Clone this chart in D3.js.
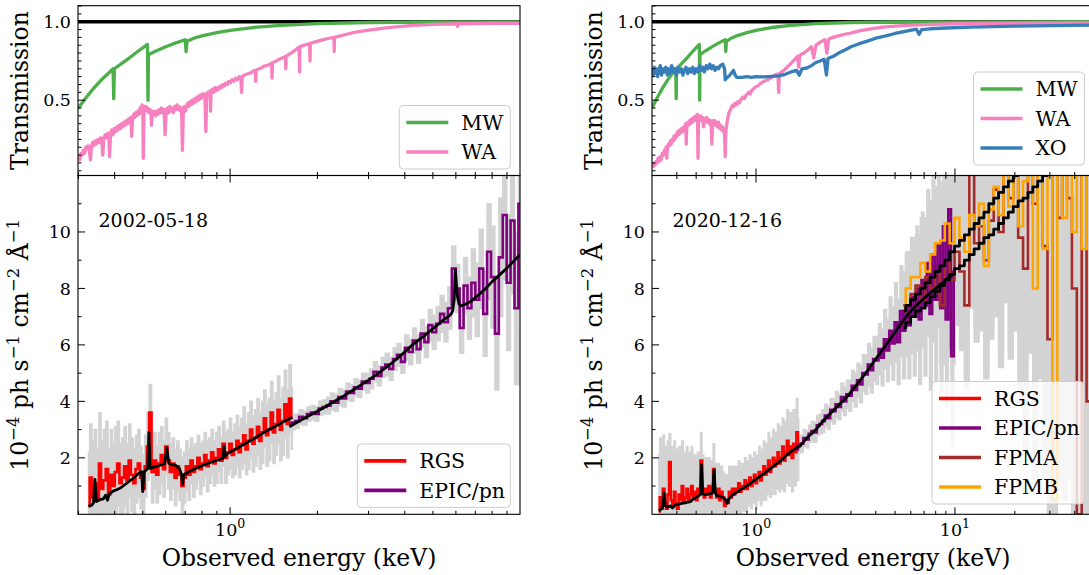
<!DOCTYPE html>
<html><head><meta charset="utf-8">
<script src="https://cdn.jsdelivr.net/npm/d3@7"></script>
<style>
body{margin:0;background:#fff;}
svg{display:block;font-family:'DejaVu Serif',serif;}
</style></head><body>
<script>
// ---------- transmission curves [energy keV, transmission] ----------
const unity = [[0.1, 1.0], [100, 1.0]];
const mw = [[0.300,0.45],[0.320,0.52],[0.340,0.58],[0.360,0.63],[0.380,0.67],[0.395,0.70],[0.397,0.51],[0.399,0.70],[0.420,0.73],[0.450,0.77],[0.480,0.81],[0.505,0.84],[0.519,0.855],[0.521,0.50],[0.523,0.79],[0.550,0.81],[0.600,0.84],[0.650,0.865],[0.700,0.885],[0.705,0.81],[0.710,0.875],[0.750,0.895],[0.800,0.91],[0.900,0.93],[1.00,0.945],[1.20,0.963],[1.50,0.977],[2.00,0.988],[3.00,0.995],[5.00,0.998],[10.0,0.999],[50.0,1.0]];
const waLeft = [[0.300,0.14],[0.303,0.12],[0.306,0.16],[0.309,0.15],[0.312,0.18],[0.315,0.16],[0.318,0.20],[0.321,0.19],[0.324,0.21],[0.327,0.18],[0.330,0.12],[0.333,0.21],[0.336,0.23],[0.339,0.21],[0.342,0.24],[0.346,0.22],[0.350,0.25],[0.354,0.23],[0.358,0.26],[0.361,0.24],[0.364,0.15],[0.367,0.26],[0.371,0.28],[0.375,0.26],[0.379,0.29],[0.382,0.27],[0.384,0.14],[0.387,0.29],[0.391,0.31],[0.395,0.28],[0.399,0.32],[0.403,0.30],[0.407,0.33],[0.411,0.31],[0.415,0.34],[0.419,0.32],[0.423,0.35],[0.427,0.33],[0.431,0.36],[0.435,0.34],[0.439,0.37],[0.443,0.35],[0.447,0.38],[0.451,0.36],[0.455,0.39],[0.458,0.27],[0.461,0.38],[0.465,0.41],[0.469,0.39],[0.473,0.42],[0.477,0.40],[0.481,0.43],[0.485,0.41],[0.489,0.45],[0.493,0.42],[0.497,0.47],[0.500,0.45],[0.502,0.13],[0.505,0.46],[0.509,0.44],[0.513,0.46],[0.517,0.43],[0.521,0.45],[0.525,0.42],[0.530,0.44],[0.534,0.41],[0.536,0.34],[0.539,0.43],[0.544,0.41],[0.549,0.43],[0.554,0.40],[0.559,0.43],[0.564,0.41],[0.569,0.44],[0.574,0.42],[0.580,0.45],[0.586,0.42],[0.592,0.44],[0.597,0.28],[0.602,0.43],[0.608,0.45],[0.614,0.42],[0.620,0.46],[0.626,0.43],[0.632,0.45],[0.638,0.42],[0.644,0.46],[0.650,0.44],[0.656,0.47],[0.662,0.44],[0.668,0.46],[0.674,0.43],[0.680,0.45],[0.685,0.18],[0.690,0.44],[0.696,0.46],[0.702,0.43],[0.708,0.46],[0.714,0.48],[0.720,0.46],[0.727,0.49],[0.734,0.47],[0.741,0.50],[0.748,0.48],[0.755,0.51],[0.762,0.49],[0.770,0.52],[0.778,0.50],[0.786,0.53],[0.794,0.51],[0.802,0.54],[0.810,0.52],[0.818,0.54],[0.825,0.30],[0.830,0.53],[0.838,0.55],[0.846,0.53],[0.853,0.56],[0.856,0.43],[0.860,0.55],[0.869,0.57],[0.878,0.55],[0.887,0.58],[0.896,0.56],[0.905,0.58],[0.915,0.57],[0.925,0.59],[0.935,0.58],[0.945,0.60],[0.955,0.59],[0.966,0.61],[0.977,0.60],[0.988,0.62],[1.00,0.61],[1.015,0.63],[1.03,0.62],[1.045,0.64],[1.06,0.63],[1.075,0.65],[1.09,0.64],[1.095,0.55],[1.10,0.65],[1.12,0.66],[1.14,0.665],[1.16,0.67],[1.18,0.675],[1.20,0.685],[1.22,0.69],[1.225,0.62],[1.23,0.69],[1.255,0.70],[1.28,0.705],[1.305,0.715],[1.33,0.72],[1.36,0.725],[1.39,0.735],[1.395,0.64],[1.40,0.74],[1.425,0.745],[1.45,0.752],[1.475,0.76],[1.50,0.766],[1.525,0.772],[1.55,0.778],[1.555,0.70],[1.56,0.782],[1.59,0.79],[1.62,0.80],[1.65,0.81],[1.68,0.82],[1.705,0.83],[1.73,0.838],[1.735,0.68],[1.74,0.84],[1.77,0.846],[1.80,0.85],[1.84,0.855],[1.88,0.86],[1.885,0.75],[1.89,0.862],[1.95,0.87],[2.02,0.878],[2.10,0.886],[2.18,0.893],[2.28,0.90],[2.285,0.81],[2.29,0.90],[2.40,0.91],[2.52,0.92],[2.68,0.932],[2.85,0.94],[3.05,0.948],[3.25,0.954],[3.50,0.962],[3.80,0.968],[4.27,0.976],[4.80,0.981],[5.40,0.985],[6.05,0.987],[6.08,0.97],[6.11,0.987],[7.0,0.988],[8.0,0.989],[9.0,0.99],[10.0,0.99]];
const waRight = [[0.300,0.07],[0.303,0.09],[0.306,0.08],[0.309,0.10],[0.312,0.09],[0.315,0.11],[0.318,0.10],[0.322,0.13],[0.326,0.11],[0.330,0.14],[0.334,0.12],[0.338,0.16],[0.342,0.15],[0.346,0.18],[0.350,0.17],[0.353,0.20],[0.356,0.13],[0.359,0.20],[0.363,0.22],[0.367,0.21],[0.371,0.24],[0.375,0.22],[0.379,0.25],[0.383,0.24],[0.387,0.27],[0.391,0.25],[0.395,0.28],[0.399,0.27],[0.403,0.30],[0.408,0.28],[0.413,0.31],[0.418,0.29],[0.423,0.32],[0.428,0.30],[0.433,0.33],[0.438,0.31],[0.443,0.35],[0.446,0.22],[0.449,0.34],[0.454,0.36],[0.459,0.34],[0.464,0.37],[0.469,0.35],[0.474,0.38],[0.480,0.36],[0.486,0.39],[0.492,0.37],[0.498,0.40],[0.504,0.38],[0.508,0.41],[0.511,0.13],[0.514,0.40],[0.520,0.38],[0.526,0.40],[0.532,0.37],[0.538,0.39],[0.545,0.33],[0.551,0.38],[0.557,0.36],[0.563,0.39],[0.569,0.36],[0.575,0.38],[0.582,0.35],[0.589,0.37],[0.595,0.34],[0.600,0.22],[0.605,0.37],[0.612,0.35],[0.619,0.37],[0.626,0.34],[0.633,0.36],[0.640,0.33],[0.648,0.36],[0.656,0.32],[0.664,0.34],[0.672,0.31],[0.680,0.33],[0.688,0.30],[0.695,0.28],[0.700,0.14],[0.705,0.30],[0.712,0.34],[0.720,0.38],[0.728,0.41],[0.736,0.43],[0.745,0.44],[0.755,0.46],[0.765,0.47],[0.775,0.46],[0.785,0.48],[0.797,0.47],[0.810,0.49],[0.822,0.48],[0.835,0.50],[0.848,0.51],[0.860,0.52],[0.875,0.51],[0.890,0.53],[0.905,0.54],[0.920,0.55],[0.935,0.54],[0.950,0.56],[0.968,0.57],[0.985,0.58],[1.00,0.585],[1.02,0.59],[1.04,0.60],[1.06,0.61],[1.08,0.615],[1.10,0.62],[1.125,0.625],[1.15,0.63],[1.175,0.64],[1.20,0.645],[1.225,0.655],[1.25,0.66],[1.27,0.665],[1.29,0.66],[1.30,0.55],[1.31,0.67],[1.345,0.68],[1.38,0.69],[1.42,0.705],[1.46,0.72],[1.50,0.735],[1.54,0.75],[1.58,0.765],[1.62,0.78],[1.64,0.71],[1.66,0.785],[1.70,0.795],[1.74,0.80],[1.78,0.81],[1.82,0.82],[1.86,0.83],[1.90,0.84],[1.95,0.77],[2.00,0.85],[2.05,0.86],[2.10,0.87],[2.16,0.878],[2.22,0.885],[2.27,0.80],[2.32,0.89],[2.40,0.897],[2.50,0.905],[2.65,0.913],[2.80,0.92],[3.00,0.928],[3.15,0.935],[3.35,0.943],[3.60,0.95],[3.90,0.957],[4.20,0.963],[4.60,0.968],[5.00,0.972],[6.00,0.978],[7.00,0.982],[10.0,0.987],[20.0,0.99],[50.0,0.992]];
const xo = [[0.300,0.69],[0.304,0.66],[0.308,0.71],[0.312,0.67],[0.316,0.70],[0.320,0.65],[0.325,0.69],[0.330,0.72],[0.335,0.66],[0.340,0.70],[0.346,0.68],[0.352,0.71],[0.358,0.66],[0.364,0.70],[0.370,0.67],[0.377,0.72],[0.384,0.68],[0.391,0.70],[0.398,0.66],[0.405,0.71],[0.413,0.68],[0.421,0.70],[0.429,0.66],[0.437,0.69],[0.445,0.71],[0.454,0.67],[0.463,0.70],[0.472,0.68],[0.481,0.71],[0.490,0.67],[0.500,0.70],[0.510,0.68],[0.520,0.72],[0.530,0.69],[0.540,0.71],[0.550,0.68],[0.562,0.72],[0.574,0.70],[0.586,0.73],[0.598,0.70],[0.610,0.72],[0.622,0.69],[0.635,0.71],[0.648,0.70],[0.660,0.72],[0.680,0.73],[0.695,0.70],[0.700,0.63],[0.710,0.64],[0.740,0.66],[0.770,0.69],[0.785,0.66],[0.800,0.645],[0.850,0.645],[0.900,0.65],[0.950,0.645],[1.00,0.65],[1.10,0.648],[1.20,0.652],[1.30,0.655],[1.40,0.665],[1.50,0.68],[1.60,0.69],[1.65,0.66],[1.70,0.70],[1.80,0.705],[1.90,0.72],[2.00,0.74],[2.10,0.75],[2.20,0.76],[2.26,0.66],[2.30,0.765],[2.45,0.78],[2.60,0.80],[2.80,0.82],[3.00,0.84],[3.30,0.86],[3.60,0.875],[4.00,0.895],[4.50,0.91],[5.00,0.925],[5.70,0.94],[6.40,0.952],[6.60,0.92],[6.80,0.95],[7.50,0.955],[9.00,0.96],[12.0,0.965],[20.0,0.972],[50.0,0.978]];

// ---------- binned spectra [energy keV, flux, 1-sigma error] (1e-4 ph/s/cm2/A) ----------
const rgs2002 = [[0.325,0.3,1.9],[0.331,1.3,1.9],[0.337,0.6,2.0],[0.343,1.1,1.9],[0.350,0.5,1.8],[0.356,1.8,1.8],[0.362,0.9,1.7],[0.369,1.2,1.8],[0.376,1.6,1.7],[0.383,0.7,1.6],[0.390,1.4,1.6],[0.397,1.0,1.5],[0.404,1.5,1.6],[0.412,1.8,1.5],[0.419,1.1,1.4],[0.427,1.3,1.4],[0.435,1.7,1.4],[0.443,1.2,1.3],[0.451,1.9,1.3],[0.459,1.4,1.3],[0.468,1.1,1.2],[0.476,1.6,1.2],[0.485,1.8,1.2],[0.494,1.3,1.1],[0.503,0.9,1.2],[0.512,1.7,1.1],[0.521,2.4,1.2],[0.531,3.6,1.0],[0.541,1.5,1.1],[0.551,1.9,1.0],[0.561,1.4,1.0],[0.571,1.8,1.1],[0.582,2.1,1.0],[0.592,1.6,1.0],[0.603,2.4,1.0],[0.614,1.9,1.0],[0.625,1.5,1.0],[0.637,1.8,0.9],[0.649,1.3,1.0],[0.660,1.7,0.9],[0.673,1.4,0.9],[0.685,1.0,1.0],[0.697,1.3,0.9],[0.710,1.7,0.9],[0.723,1.4,0.9],[0.737,1.9,0.8],[0.750,1.5,0.9],[0.764,1.7,0.8],[0.778,2.0,0.8],[0.792,1.6,0.9],[0.807,1.8,0.8],[0.821,2.1,0.8],[0.837,1.7,0.9],[0.852,1.9,0.8],[0.868,2.2,0.8],[0.883,1.8,0.8],[0.900,2.0,0.9],[0.916,2.3,0.8],[0.933,1.9,0.8],[0.950,2.5,0.8],[0.968,2.0,0.9],[0.985,2.2,0.8],[1.003,2.5,0.9],[1.022,2.1,0.8],[1.041,2.3,0.9],[1.060,2.6,0.9],[1.079,2.2,0.9],[1.099,2.5,0.9],[1.119,2.8,1.0],[1.140,2.3,0.9],[1.160,2.6,1.0],[1.182,3.0,1.0],[1.203,2.5,1.0],[1.226,2.7,1.0],[1.248,3.1,1.0],[1.271,2.6,1.0],[1.294,2.9,1.1],[1.318,3.4,1.0],[1.342,2.8,1.1],[1.367,3.0,1.1],[1.392,3.6,1.1],[1.417,2.9,1.1],[1.443,3.2,1.1],[1.470,3.7,1.2],[1.497,3.0,1.1],[1.524,3.3,1.2],[1.552,3.9,1.2],[1.581,3.2,1.2],[1.610,4.1,1.2],[1.639,3.4,1.1]];
const pn2002 = [[1.600,3.15,0.25],[1.650,3.25,0.25],[1.703,3.30,0.25],[1.756,3.45,0.25],[1.812,3.40,0.25],[1.869,3.55,0.25],[1.928,3.60,0.25],[1.989,3.55,0.25],[2.052,3.75,0.25],[2.116,3.80,0.25],[2.183,3.85,0.3],[2.252,4.00,0.3],[2.323,3.95,0.3],[2.397,4.15,0.3],[2.472,4.10,0.3],[2.550,4.35,0.3],[2.631,4.30,0.3],[2.714,4.50,0.3],[2.799,4.45,0.3],[2.888,4.70,0.3],[2.979,4.65,0.35],[3.073,4.80,0.35],[3.170,5.05,0.35],[3.270,4.90,0.35],[3.373,5.20,0.35],[3.480,5.30,0.4],[3.589,5.15,0.4],[3.703,5.50,0.4],[3.820,5.65,0.4],[3.940,5.40,0.4],[4.065,5.90,0.45],[4.193,5.75,0.45],[4.325,6.15,0.45],[4.462,5.85,0.5],[4.602,6.40,0.5],[4.748,6.10,0.55],[4.898,6.70,0.55],[5.052,6.45,0.6],[5.212,6.75,0.6],[5.376,7.10,0.65],[5.546,6.80,0.7],[5.721,7.30,0.75],[5.901,8.70,0.8],[6.088,8.00,0.85],[6.280,6.60,0.9],[6.478,8.10,1.0],[6.683,7.30,1.1],[6.893,8.20,1.2],[7.111,7.60,1.3],[7.335,8.70,1.4],[7.567,7.10,1.5],[7.806,9.30,1.7],[8.052,8.40,1.8],[8.306,6.40,2.0],[8.568,9.10,2.1],[8.839,10.6,2.3],[9.118,8.20,2.4],[9.406,10.4,2.6],[9.703,7.30,2.7],[10.009,11.0,2.8]];
const rgs2020 = [[0.325,0.1,2.0],[0.331,0.6,2.1],[0.337,0.2,2.0],[0.343,0.9,1.9],[0.350,0.4,2.0],[0.356,0.2,2.1],[0.362,0.7,1.9],[0.369,1.85,1.0],[0.376,0.5,1.9],[0.383,0.3,2.0],[0.390,0.8,1.8],[0.397,0.4,1.9],[0.404,0.2,1.9],[0.412,0.7,1.7],[0.419,0.5,1.8],[0.427,1.0,1.6],[0.435,0.4,1.7],[0.443,0.6,1.6],[0.451,0.9,1.5],[0.459,0.5,1.6],[0.468,0.7,1.5],[0.476,1.0,1.4],[0.485,0.6,1.4],[0.494,0.8,1.3],[0.503,0.5,1.4],[0.512,0.9,1.3],[0.521,0.7,1.3],[0.531,1.9,1.0],[0.541,0.9,1.2],[0.551,0.6,1.2],[0.561,0.9,1.1],[0.571,0.7,1.1],[0.582,1.0,1.0],[0.592,0.6,1.1],[0.603,0.9,1.0],[0.614,1.6,0.9],[0.625,0.8,1.0],[0.637,0.6,1.0],[0.649,0.9,0.9],[0.660,0.5,1.0],[0.673,0.8,0.9],[0.685,0.6,0.9],[0.697,0.3,1.0],[0.710,0.5,0.9],[0.723,0.4,0.9],[0.737,0.8,0.9],[0.750,0.6,0.8],[0.764,0.9,0.8],[0.778,0.7,0.9],[0.792,0.9,0.8],[0.807,0.8,0.8],[0.821,1.1,0.8],[0.837,0.8,0.8],[0.852,1.0,0.8],[0.868,0.9,0.8],[0.883,1.2,0.8],[0.900,0.9,0.8],[0.916,1.1,0.8],[0.933,1.3,0.8],[0.950,1.0,0.8],[0.968,1.2,0.8],[0.985,1.4,0.8],[1.003,1.1,0.9],[1.022,1.3,0.8],[1.041,1.5,0.9],[1.060,1.2,0.9],[1.079,1.4,0.9],[1.099,1.7,0.9],[1.119,1.4,0.9],[1.140,1.6,0.9],[1.160,1.9,1.0],[1.182,1.5,0.9],[1.203,1.7,1.0],[1.226,2.0,1.0],[1.248,1.7,1.0],[1.271,1.9,1.0],[1.294,2.2,1.0],[1.318,1.8,1.0],[1.342,2.0,1.1],[1.367,2.4,1.0],[1.392,1.9,1.1],[1.417,2.2,1.1],[1.443,2.6,1.1],[1.470,2.1,1.1],[1.497,2.4,1.2],[1.524,2.0,1.2],[1.552,2.5,1.2],[1.581,2.2,1.2],[1.610,2.9,1.2],[1.639,2.3,1.1]];
const pn2020 = [[1.600,2.30,0.3],[1.650,2.45,0.3],[1.703,2.50,0.3],[1.756,2.70,0.3],[1.812,2.65,0.3],[1.869,2.85,0.3],[1.928,2.95,0.35],[1.989,2.90,0.35],[2.052,3.15,0.35],[2.116,3.20,0.35],[2.183,3.30,0.4],[2.252,3.50,0.4],[2.323,3.40,0.4],[2.397,3.70,0.4],[2.472,3.65,0.45],[2.550,3.90,0.45],[2.631,3.80,0.45],[2.714,4.15,0.5],[2.799,4.00,0.5],[2.888,4.25,0.5],[2.979,4.20,0.55],[3.073,4.55,0.55],[3.170,4.40,0.6],[3.270,4.75,0.6],[3.373,4.60,0.65],[3.480,5.00,0.65],[3.589,4.95,0.7],[3.703,5.30,0.75],[3.820,5.10,0.8],[3.940,5.50,0.8],[4.065,5.45,0.85],[4.193,5.85,0.9],[4.325,5.55,1.0],[4.462,6.20,1.05],[4.602,5.80,1.1],[4.748,6.50,1.2],[4.898,6.05,1.3],[5.052,6.80,1.4],[5.212,6.10,1.5],[5.376,7.20,1.6],[5.546,6.50,1.7],[5.721,7.40,1.8],[5.901,6.70,1.9],[6.088,7.70,2.0],[6.280,7.00,2.1],[6.478,8.00,2.2],[6.683,6.90,2.3],[6.893,8.30,2.4],[7.111,7.40,2.5],[7.335,8.90,2.6],[7.567,7.10,2.7],[7.806,9.20,2.8],[8.052,7.60,2.9],[8.306,9.60,3.0],[8.568,7.30,3.0],[8.839,10.2,3.1],[9.118,6.90,3.1],[9.406,10.8,3.2],[9.703,5.60,3.2],[10.009,8.60,3.3]];
const fpma2020 = [[5.50,7.4,1.2],[5.82,7.4,1.3],[6.16,7.8,1.4],[6.52,8.1,1.5],[6.89,7.6,1.6],[7.29,8.4,1.7],[7.72,8.0,1.9],[8.17,8.6,2.0],[8.64,7.4,2.1],[9.14,9.0,2.3],[9.67,8.3,2.4],[10.24,9.3,2.6],[10.84,8.6,2.8],[11.48,7.4,3.0],[12.14,12.5,3.3],[12.85,9.6,3.5],[13.60,10.2,3.7],[14.39,9.0,4.0],[15.23,10.4,4.2],[16.11,11.5,4.5],[17.05,10.0,4.8],[18.04,12.5,5.0],[19.09,11.2,5.4],[20.21,12.4,5.8],[21.38,9.8,6.0],[22.63,8.7,6.4],[23.94,12.6,6.8],[25.34,11.0,7.0],[26.81,13.0,7.5],[28.37,9.5,8.0],[30.02,6.2,8.5],[31.77,12.8,9.0],[33.62,10.5,9.5],[35.58,13.0,10],[37.65,11.2,10],[39.84,8.0,10],[42.16,0.0,10],[44.61,13.0,10],[47.21,4.0,10],[49.96,12.0,10]];
const fpmb2020 = [[5.50,7.2,1.2],[5.82,8.0,1.3],[6.16,8.4,1.4],[6.52,8.4,1.5],[6.89,8.9,1.6],[7.29,8.6,1.7],[7.72,9.2,1.9],[8.17,9.6,2.0],[8.64,9.7,2.1],[9.14,10.3,2.3],[9.67,9.6,2.4],[10.24,10.5,2.6],[10.84,9.8,2.8],[11.48,9.3,3.0],[12.14,10.6,3.3],[12.85,10.2,3.5],[13.60,11.0,3.7],[14.39,8.8,4.0],[15.23,10.8,4.2],[16.11,11.6,4.5],[17.05,10.6,4.8],[18.04,12.5,5.0],[19.09,10.9,5.4],[20.21,12.3,5.8],[21.38,10.2,6.0],[22.63,11.8,6.4],[23.94,12.5,6.8],[25.34,8.0,7.0],[26.81,12.3,7.5],[28.37,9.4,8.0],[30.02,12.6,8.5],[31.77,0.5,9.0],[33.62,12.5,9.5],[35.58,10.5,10],[37.65,12.8,10],[39.84,10.0,10],[42.16,12.4,10],[44.61,9.4,10],[47.21,12.8,10],[49.96,11.0,10]];

// ---------- best-fit models [energy keV, flux] ----------
const rgsModel2002 = [[0.325,0.28],[0.333,0.32],[0.338,0.40],[0.342,1.24],[0.346,0.45],[0.355,0.52],[0.366,0.55],[0.372,0.68],[0.378,0.50],[0.383,0.72],[0.395,0.82],[0.408,0.88],[0.420,0.94],[0.440,1.10],[0.460,1.25],[0.482,1.43],[0.495,1.52],[0.500,0.80],[0.505,1.50],[0.515,1.58],[0.520,1.62],[0.525,2.90],[0.530,1.62],[0.544,1.67],[0.570,1.72],[0.595,1.80],[0.605,2.35],[0.615,1.80],[0.630,1.76],[0.650,1.73],[0.670,1.60],[0.680,1.40],[0.686,1.06],[0.692,1.40],[0.715,1.49],[0.760,1.62],[0.800,1.72],[0.831,1.79],[0.880,1.88],[0.930,1.96],[0.945,1.98],[0.952,2.40],[0.960,2.05],[0.979,2.15],[1.040,2.30],[1.091,2.42],[1.180,2.62],[1.285,2.85],[1.360,3.00],[1.434,3.12],[1.540,3.30],[1.640,3.44]];
const pnModel2002 = [[1.60,3.10],[1.80,3.40],[2.00,3.65],[2.48,4.21],[3.00,4.75],[3.25,5.00],[3.60,5.35],[4.00,5.75],[4.27,6.02],[4.70,6.35],[5.20,6.72],[5.50,6.92],[5.76,7.07],[5.85,7.20],[5.92,7.60],[5.97,8.66],[6.02,8.20],[6.08,7.70],[6.15,7.45],[6.25,7.38],[6.50,7.45],[6.79,7.56],[7.20,7.78],[7.60,8.00],[8.00,8.24],[9.00,8.72],[10.0,9.20]];
const rgsModel2020 = [[0.325,0.12],[0.335,0.20],[0.340,0.28],[0.345,0.76],[0.350,0.30],[0.360,0.25],[0.370,0.30],[0.380,0.22],[0.390,0.32],[0.410,0.36],[0.430,0.40],[0.450,0.42],[0.469,0.45],[0.480,0.52],[0.500,0.60],[0.515,0.65],[0.525,0.70],[0.533,1.75],[0.540,0.72],[0.551,0.70],[0.580,0.72],[0.605,0.75],[0.615,1.57],[0.625,0.75],[0.635,0.66],[0.660,0.64],[0.690,0.58],[0.705,0.50],[0.717,0.39],[0.730,0.55],[0.760,0.68],[0.793,0.76],[0.850,0.90],[0.920,1.05],[1.010,1.26],[1.100,1.45],[1.200,1.65],[1.290,1.82],[1.400,2.05],[1.500,2.22],[1.600,2.36],[1.680,2.44]];
const pnModel2020 = [[1.65,2.40],[1.80,2.70],[2.00,3.00],[2.20,3.35],[2.50,3.75],[2.90,4.20],[3.30,4.70],[3.60,5.05],[4.00,5.50],[4.50,6.00],[5.00,6.45],[5.54,6.90],[6.00,7.20],[6.50,7.45],[7.00,7.65],[8.00,8.00],[9.00,8.30],[10.0,8.55]];
const fpmaModel2020 = [[5.50,6.6],[5.82,6.8],[6.16,7.0],[6.52,7.2],[6.89,7.3],[7.29,7.5],[7.72,7.7],[8.17,7.9],[8.64,8.1],[9.14,8.3],[9.67,8.5],[10.24,8.7],[10.84,8.8],[11.48,9.0],[12.14,9.2],[12.85,9.4],[13.60,9.6],[14.39,9.8],[15.23,9.9],[16.11,10.1],[17.05,10.3],[18.04,10.5],[19.09,10.7],[20.21,10.9],[21.38,11.1],[22.63,11.2],[23.94,11.4],[25.34,11.6],[26.81,11.8],[28.37,12.0],[30.02,12.2],[31.77,12.4],[33.62,12.5],[35.58,12.7],[37.65,12.9],[39.84,13.1],[42.16,13.3],[44.61,13.5],[47.21,13.6],[49.96,13.8]];
const fpmbModel2020 = [[5.50,7.2],[5.82,7.4],[6.16,7.6],[6.52,7.8],[6.89,8.0],[7.29,8.2],[7.72,8.4],[8.17,8.6],[8.64,8.8],[9.14,9.0],[9.67,9.3],[10.24,9.5],[10.84,9.7],[11.48,9.9],[12.14,10.1],[12.85,10.3],[13.60,10.5],[14.39,10.7],[15.23,11.0],[16.11,11.2],[17.05,11.4],[18.04,11.6],[19.09,11.8],[20.21,12.0],[21.38,12.2],[22.63,12.4],[23.94,12.7],[25.34,12.9],[26.81,13.1],[28.37,13.3],[30.02,13.5],[31.77,13.7],[33.62,13.9],[35.58,14.1],[37.65,14.4],[39.84,14.6],[42.16,14.8],[44.61,15.0],[47.21,15.2],[49.96,15.4]];

// ---------- axis settings ----------
const transDomain = [0.02, 1.102];
const transTicks = [0.5, 1.0];
const fluxDomain = [0, 12];
const fluxTicks = [2, 4, 6, 8, 10];
const dates = ["2002-05-18", "2020-12-16"];

// ---------- layout ----------
const W = 1089, H = 575;
const TOP = {t: 5.7, b: 175.5}, BOT = {t: 175.5, b: 514.3};
const FS_TICK = 17.5, FS_LABEL = 23.5, FS_LEG = 20.5, FS_NOTE = 19;
const C = {black:"#000", mw:"#4daf4a", wa:"#f781bf", xo:"#377eb8", rgs:"#ff0000", pn:"#800080", fpma:"#a52a2a", fpmb:"#ffa500", err:"#d3d3d3"};

const svg = d3.select("body").append("svg").attr("width", W).attr("height", H);
const defs = svg.append("defs");

function rich(sel, parts, supFs, rise) {
  let up = false;
  parts.forEach(([s, sup]) => {
    const t = sel.append("tspan").text(s);
    if (sup) { t.style("font-size", supFs + "px"); if (!up) { t.attr("dy", -rise); up = true; } }
    else if (up) { t.attr("dy", rise); up = false; }
  });
}

function logTicks(dom) {
  const out = [];
  for (let p = -2; p <= 3; p++) for (let k = 1; k <= 9; k++) {
    const v = k * Math.pow(10, p);
    if (v > dom[0] * 1.001 && v < dom[1] * 0.999) out.push({v, major: k === 1, p});
  }
  return out;
}

function drawPanel(p, idx) {
  const x = d3.scaleLog().domain(p.xDomain).range([p.x0, p.x1]);
  const yT = d3.scaleLinear().domain(transDomain).range([TOP.b, TOP.t]);
  const yB = d3.scaleLinear().domain(fluxDomain).range([BOT.b, BOT.t]);
  const g = svg.append("g");
  const cT = "clipT" + idx, cB = "clipB" + idx;
  defs.append("clipPath").attr("id", cT).append("rect").attr("x", p.x0).attr("y", TOP.t).attr("width", p.x1 - p.x0).attr("height", TOP.b - TOP.t);
  defs.append("clipPath").attr("id", cB).append("rect").attr("x", p.x0).attr("y", BOT.t).attr("width", p.x1 - p.x0).attr("height", BOT.b - BOT.t);

  // transmission panel
  const gt = g.append("g").attr("clip-path", `url(#${cT})`);
  const tLine = d3.line().x(d => x(d[0])).y(d => yT(d[1]));
  gt.append("path").datum(unity).attr("d", tLine).attr("fill", "none").attr("stroke", C.black).attr("stroke-width", 3.6);
  p.trans.forEach(s => {
    gt.append("path").datum(s.data).attr("d", tLine).attr("fill", "none")
      .attr("stroke", s.color).attr("stroke-width", 3.3).attr("stroke-linejoin", "round");
  });

  // spectrum panel: error bands, data steps, models
  const gb = g.append("g").attr("clip-path", `url(#${cB})`);
  const band = d3.area().x(d => x(d[0])).y0(d => yB(d[1] - d[2])).y1(d => yB(d[1] + d[2])).curve(d3.curveStep);
  const step = d3.line().x(d => x(d[0])).y(d => yB(d[1])).curve(d3.curveStep);
  const smooth = d3.line().x(d => x(d[0])).y(d => yB(d[1]));
  p.spectra.forEach(s => gb.append("path").datum(s.data).attr("d", band).attr("fill", C.err).attr("stroke", C.err).attr("stroke-width", 1.5));
  p.spectra.forEach(s => gb.append("path").datum(s.data).attr("d", step).attr("fill", "none").attr("stroke", s.color).attr("stroke-width", 2.6));
  p.models.forEach(m => gb.append("path").datum(m.data).attr("d", m.step ? step : smooth).attr("fill", "none")
    .attr("stroke", C.black).attr("stroke-width", 2.8).attr("stroke-linejoin", "round"));

  // spines
  [[TOP.t, TOP.b], [BOT.t, BOT.b]].forEach(([t, b]) => {
    g.append("rect").attr("x", p.x0).attr("y", t).attr("width", p.x1 - p.x0).attr("height", b - t)
      .attr("fill", "none").attr("stroke", "#000").attr("stroke-width", 1.1);
  });

  // x ticks (inward)
  const xt = logTicks(p.xDomain);
  const tk = g.append("g").attr("stroke", "#000").attr("stroke-width", 1);
  xt.forEach(t => {
    const L = t.major ? 7 : 3.5, xx = x(t.v);
    tk.append("line").attr("x1", xx).attr("x2", xx).attr("y1", TOP.b).attr("y2", TOP.b - L);
    tk.append("line").attr("x1", xx).attr("x2", xx).attr("y1", BOT.t).attr("y2", BOT.t + L);
    tk.append("line").attr("x1", xx).attr("x2", xx).attr("y1", BOT.b).attr("y2", BOT.b - L);
  });
  xt.filter(t => t.major).forEach(t => {
    const tx = g.append("text").attr("x", x(t.v)).attr("y", 536).attr("text-anchor", "middle").style("font-size", FS_TICK + "px");
    rich(tx, [["10", false], [String(t.p), true]], 12.5, 8);
  });

  // y ticks (inward)
  for (let i = 1; i <= 22; i++) {
    const v = i * 0.05;
    if (v <= transDomain[0] || v >= transDomain[1]) continue;
    const major = transTicks.some(m => Math.abs(m - v) < 1e-6);
    tk.append("line").attr("x1", p.x0).attr("x2", p.x0 + (major ? 7 : 3.5)).attr("y1", yT(v)).attr("y2", yT(v));
  }
  transTicks.forEach(v => g.append("text").attr("x", p.x0 - 7).attr("y", yT(v)).attr("dy", "0.36em")
    .attr("text-anchor", "end").style("font-size", FS_TICK + "px").text(v.toFixed(1)));
  for (let v = 1; v < fluxDomain[1]; v++) {
    const major = fluxTicks.includes(v);
    tk.append("line").attr("x1", p.x0).attr("x2", p.x0 + (major ? 7 : 3.5)).attr("y1", yB(v)).attr("y2", yB(v));
  }
  fluxTicks.forEach(v => g.append("text").attr("x", p.x0 - 7).attr("y", yB(v)).attr("dy", "0.36em")
    .attr("text-anchor", "end").style("font-size", FS_TICK + "px").text(v));

  // axis labels
  const lx = p.x0 - 50;
  g.append("text").attr("transform", `translate(${lx},${(TOP.t + TOP.b) / 2}) rotate(-90)`)
    .attr("text-anchor", "middle").style("font-size", FS_LABEL + "px").text("Transmission");
  const yl = g.append("text").attr("transform", `translate(${lx},${(BOT.t + BOT.b) / 2}) rotate(-90)`)
    .attr("text-anchor", "middle").style("font-size", FS_LABEL + "px");
  rich(yl, [["10", false], ["\u22124", true], [" ph s", false], ["\u22121", true], [" cm", false], ["\u22122", true], [" \u00c5", false], ["\u22121", true]], 16.5, 9);
  g.append("text").attr("x", (p.x0 + p.x1) / 2).attr("y", 566).attr("text-anchor", "middle")
    .style("font-size", FS_LABEL + "px").text("Observed energy (keV)");

  // observation date
  g.append("text").attr("x", p.x0 + 20.5).attr("y", 227.3).style("font-size", FS_NOTE + "px").text(p.date);

  // legends
  drawLegend(g, p.legTop, p.trans, 3.6);
  drawLegend(g, p.legBot, p.spectra, 3.6);
}

function drawLegend(g, L, items, lw) {
  const n = items.length, rowH = 29.5, pad = 17;
  const h = 2 * pad + (n - 1) * rowH;
  const top = L.bottom - h, left = L.right - L.width;
  g.append("rect").attr("x", left).attr("y", top).attr("width", L.width).attr("height", h)
    .attr("rx", 4).attr("fill", "#fff").attr("fill-opacity", 0.8).attr("stroke", "#cccccc").attr("stroke-width", 1);
  items.forEach((s, i) => {
    const yy = top + pad + i * rowH;
    g.append("line").attr("x1", left + 7).attr("x2", left + 49).attr("y1", yy).attr("y2", yy)
      .attr("stroke", s.color).attr("stroke-width", lw);
    g.append("text").attr("x", left + 62).attr("y", yy).attr("dy", "0.36em").style("font-size", FS_LEG + "px").text(s.name);
  });
}

const panels = [
  { x0: 78, x1: 520, xDomain: [0.299, 9.98], date: dates[0],
    trans: [{name: "MW", data: mw, color: C.mw}, {name: "WA", data: waLeft, color: C.wa}],
    spectra: [{name: "RGS", data: rgs2002, color: C.rgs}, {name: "EPIC/pn", data: pn2002, color: C.pn}],
    models: [{data: rgsModel2002}, {data: pnModel2002}],
    legTop: {right: 510.3, bottom: 169, width: 111}, legBot: {right: 510.3, bottom: 507.4, width: 153} },
  { x0: 652, x1: 1094, xDomain: [0.3, 50], date: dates[1],
    trans: [{name: "MW", data: mw, color: C.mw}, {name: "WA", data: waRight, color: C.wa}, {name: "XO", data: xo, color: C.xo}],
    spectra: [{name: "RGS", data: rgs2020, color: C.rgs}, {name: "EPIC/pn", data: pn2020, color: C.pn},
              {name: "FPMA", data: fpma2020, color: C.fpma}, {name: "FPMB", data: fpmb2020, color: C.fpmb}],
    models: [{data: rgsModel2020}, {data: pnModel2020}, {data: fpmaModel2020, step: true}, {data: fpmbModel2020, step: true}],
    legTop: {right: 1084.5, bottom: 165, width: 111}, legBot: {right: 1084, bottom: 504, width: 152} }
];
panels.forEach(drawPanel);
</script>
</body></html>
